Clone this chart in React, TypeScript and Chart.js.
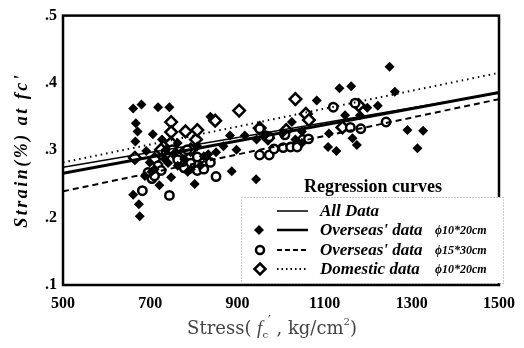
import { useEffect, useRef } from "react";
import { Chart, registerables } from "chart.js";

Chart.register(...registerables);

// ---- axis ticks ----
const xTickValues = [500, 700, 900, 1100, 1300, 1500];
const yTickValues = [0.1, 0.2, 0.3, 0.4, 0.5];

// ---- measured points: [stress kg/cm2, strain %] ----
const overseas10x20: [number, number][] = [
  [661, 0.362], [680, 0.368], [667, 0.34], [671, 0.328], [666, 0.313],
  [718, 0.364], [744, 0.364], [706, 0.324], [727, 0.316], [691, 0.299],
  [661, 0.234], [674, 0.22], [676, 0.202], [721, 0.248], [748, 0.26],
  [802, 0.25], [838, 0.35], [851, 0.297], [883, 0.322], [887, 0.269],
  [917, 0.322], [943, 0.257], [944, 0.316], [1025, 0.342], [1082, 0.374],
  [1048, 0.311], [1110, 0.325], [1108, 0.305], [1127, 0.299], [1134, 0.392],
  [1161, 0.395], [1147, 0.352], [1164, 0.318], [1174, 0.308], [1181, 0.352],
  [1198, 0.363], [1222, 0.366], [1249, 0.424], [1261, 0.387], [1290, 0.33],
  [1326, 0.329], [1313, 0.303], [699, 0.282], [710, 0.272], [733, 0.287],
  [763, 0.277], [778, 0.287], [793, 0.272], [815, 0.277], [823, 0.291],
  [808, 0.306], [763, 0.311], [736, 0.301], [833, 0.294], [868, 0.306],
  [898, 0.301], [965, 0.323], [1003, 0.325], [1033, 0.316], [1048, 0.328],
  [688, 0.262], [703, 0.268], [741, 0.281], [786, 0.268], [756, 0.296],
];

const overseas15x30: [number, number][] = [
  [744, 0.233], [682, 0.24], [695, 0.267], [704, 0.258], [718, 0.277],
  [808, 0.27], [793, 0.281], [851, 0.261], [951, 0.293], [973, 0.293],
  [984, 0.302], [1005, 0.304], [1022, 0.305], [1037, 0.305], [1050, 0.316],
  [1063, 0.317], [973, 0.32], [1009, 0.323], [951, 0.332], [1120, 0.364],
  [1159, 0.334], [1183, 0.332], [1170, 0.37], [1241, 0.342], [778, 0.274],
  [763, 0.286], [736, 0.295], [808, 0.29], [751, 0.301], [785, 0.301],
  [823, 0.282], [823, 0.272], [725, 0.27], [710, 0.262], [838, 0.282],
];

const domestic10x20: [number, number][] = [
  [665, 0.289], [748, 0.342], [748, 0.327], [725, 0.301], [748, 0.311],
  [781, 0.328], [805, 0.316], [773, 0.294], [849, 0.344], [904, 0.359],
  [1033, 0.376], [1057, 0.354], [763, 0.291], [793, 0.301], [808, 0.33],
  [710, 0.287], [951, 0.333], [970, 0.318], [1141, 0.334], [1178, 0.367],
  [1012, 0.33], [1064, 0.345],
];

// ---- regression curves: strain at stress = 500 and 1500 ----
const fitStress = [500, 1500];
const fitAllData = [0.275, 0.385];
const fitOverseas10x20 = [0.266, 0.386];
const fitOverseas15x30 = [0.239, 0.376];
const fitDomestic = [0.282, 0.415];

const toXY = (pts: [number, number][]) => pts.map(([x, y]) => ({ x, y }));
const fitXY = (ys: number[]) => fitStress.map((x, i) => ({ x, y: ys[i] }));

const SERIF = '"Liberation Serif", "DejaVu Serif", serif';
const WIDE_SERIF = '"DejaVu Serif", "Liberation Serif", serif';

function diamond(ctx: CanvasRenderingContext2D, x: number, y: number, r: number) {
  ctx.beginPath();
  ctx.moveTo(x, y - r);
  ctx.lineTo(x + r, y);
  ctx.lineTo(x, y + r);
  ctx.lineTo(x - r, y);
  ctx.closePath();
}

const decorPlugin = {
  id: "decor",
  afterDraw(chart: Chart) {
    const ctx = chart.ctx;
    const { left, right, top, bottom } = chart.chartArea;

    // plot frame
    ctx.save();
    ctx.strokeStyle = "#000";
    ctx.lineWidth = 2.5;
    ctx.strokeRect(left, top, right - left, bottom - top);
    ctx.restore();

    // y-axis title
    ctx.save();
    ctx.translate(22, (top + bottom) / 2);
    ctx.rotate(-Math.PI / 2);
    ctx.fillStyle = "#000";
    ctx.font = `bold italic 18px ${SERIF}`;
    (ctx as any).letterSpacing = "2.5px";
    ctx.textAlign = "center";
    ctx.textBaseline = "middle";
    ctx.fillText("Strain(%) at fc'", 0, 0);
    ctx.restore();

    // x-axis title, drawn piecewise for the subscript / superscripts
    ctx.save();
    ctx.fillStyle = "#444";
    ctx.textBaseline = "alphabetic";
    const parts: { t: string; f: string; dy: number }[] = [
      { t: "Stress( ", f: `18px ${WIDE_SERIF}`, dy: 0 },
      { t: "f", f: `italic 19px ${SERIF}`, dy: 0 },
      { t: "c", f: `10px ${WIDE_SERIF}`, dy: 4 },
      { t: "′", f: `12px ${WIDE_SERIF}`, dy: -9 },
      { t: " , kg/cm", f: `18px ${WIDE_SERIF}`, dy: 0 },
      { t: "2", f: `10px ${WIDE_SERIF}`, dy: -9 },
      { t: ")", f: `18px ${WIDE_SERIF}`, dy: 0 },
    ];
    let total = 0;
    for (const p of parts) {
      ctx.font = p.f;
      total += ctx.measureText(p.t).width;
    }
    let cx = 272 - total / 2;
    const baseY = 334;
    for (const p of parts) {
      ctx.font = p.f;
      ctx.fillText(p.t, cx, baseY + p.dy);
      cx += ctx.measureText(p.t).width;
    }
    ctx.restore();

    // legend block
    ctx.save();
    const bx = 241, by = 197, bw = 262, bh = 86;
    ctx.fillStyle = "#fff";
    ctx.fillRect(bx, by, bw, bh);
    ctx.strokeStyle = "#999";
    ctx.lineWidth = 1;
    ctx.setLineDash([1, 2]);
    ctx.strokeRect(bx + 0.5, by + 0.5, bw, bh);
    ctx.setLineDash([]);

    ctx.fillStyle = "#000";
    ctx.font = `bold 18px ${SERIF}`;
    ctx.textAlign = "center";
    ctx.textBaseline = "middle";
    ctx.fillText("Regression curves", 373, 187);

    const rows = [
      { y: 211, label: "All Data", size: "", marker: "", dash: [] as number[], lw: 1.5 },
      { y: 230, label: "Overseas' data", size: "ϕ10*20cm", marker: "fd", dash: [] as number[], lw: 2.5 },
      { y: 250, label: "Overseas' data", size: "ϕ15*30cm", marker: "oc", dash: [5, 3], lw: 2 },
      { y: 269, label: "Domestic data", size: "ϕ10*20cm", marker: "od", dash: [1.5, 3], lw: 2 },
    ];
    for (const r of rows) {
      ctx.strokeStyle = "#000";
      ctx.lineWidth = r.lw;
      ctx.setLineDash(r.dash);
      ctx.beginPath();
      ctx.moveTo(277, r.y);
      ctx.lineTo(308, r.y);
      ctx.stroke();
      ctx.setLineDash([]);

      if (r.marker === "fd") {
        diamond(ctx, 259, r.y, 5);
        ctx.fillStyle = "#000";
        ctx.fill();
      } else if (r.marker === "oc") {
        ctx.beginPath();
        ctx.arc(260, r.y, 4, 0, Math.PI * 2);
        ctx.lineWidth = 2.5;
        ctx.stroke();
      } else if (r.marker === "od") {
        diamond(ctx, 260, r.y, 5.5);
        ctx.lineWidth = 2.5;
        ctx.stroke();
      }

      ctx.fillStyle = "#000";
      ctx.textAlign = "left";
      ctx.font = `bold italic 17px ${SERIF}`;
      ctx.fillText(r.label, 320, r.y + 1);
      if (r.size) {
        ctx.font = `bold italic 12px ${SERIF}`;
        ctx.fillText(r.size, 435, r.y + 1);
      }
    }
    ctx.restore();
  },
};

export default function App() {
  const canvasRef = useRef<HTMLCanvasElement | null>(null);

  useEffect(() => {
    document.body.style.margin = "0";
    const canvas = canvasRef.current;
    if (!canvas) return;

    const fitLine = (ys: number[], width: number, dash: number[]) => ({
      type: "line" as const,
      data: fitXY(ys),
      borderColor: "#000",
      borderWidth: width,
      borderDash: dash,
      pointRadius: 0,
      fill: false,
      tension: 0,
      order: 0,
    });

    const chart = new Chart(canvas, {
      type: "scatter",
      data: {
        datasets: [
          {
            label: "Overseas' data ϕ15*30cm",
            data: toXY(overseas15x30),
            pointStyle: "circle",
            pointRadius: 4.2,
            borderWidth: 2.5,
            borderColor: "#000",
            backgroundColor: "#fff",
            order: 2,
          },
          {
            label: "Domestic data ϕ10*20cm",
            data: toXY(domestic10x20),
            pointStyle: "rectRot",
            pointRadius: 5.8,
            borderWidth: 2.5,
            borderColor: "#000",
            backgroundColor: "#fff",
            order: 3,
          },
          {
            label: "Overseas' data ϕ10*20cm",
            data: toXY(overseas10x20),
            pointStyle: "rectRot",
            pointRadius: 5,
            borderWidth: 0,
            borderColor: "#000",
            backgroundColor: "#000",
            order: 1,
          },
          { label: "All Data", ...fitLine(fitAllData, 1.5, []) },
          { label: "Overseas' data ϕ10*20cm fit", ...fitLine(fitOverseas10x20, 3, []) },
          { label: "Overseas' data ϕ15*30cm fit", ...fitLine(fitOverseas15x30, 2, [6, 4]) },
          { label: "Domestic data ϕ10*20cm fit", ...fitLine(fitDomestic, 2, [1.5, 4]) },
        ] as any,
      },
      options: {
        animation: false,
        responsive: true,
        maintainAspectRatio: false,
        layout: { padding: { top: 10, right: 17, left: 0, bottom: 0 } },
        plugins: {
          legend: { display: false },
          tooltip: { enabled: false },
        },
        scales: {
          x: {
            type: "linear",
            min: 500,
            max: 1500,
            afterFit: (s: any) => {
              s.height = 63;
            },
            afterBuildTicks: (s: any) => {
              s.ticks = xTickValues.map((v) => ({ value: v }));
            },
            grid: { display: false, drawTicks: false },
            border: { display: false },
            ticks: {
              padding: 9,
              color: "#000",
              maxRotation: 0,
              font: { family: SERIF, size: 16, weight: "bold" },
              callback: (v: any) => String(v),
            },
          },
          y: {
            type: "linear",
            min: 0.1,
            max: 0.5,
            afterFit: (s: any) => {
              s.width = 63;
            },
            afterBuildTicks: (s: any) => {
              s.ticks = yTickValues.map((v) => ({ value: v }));
            },
            grid: { display: false, drawTicks: false },
            border: { display: false },
            ticks: {
              padding: 6,
              color: "#000",
              font: { family: SERIF, size: 16, weight: "bold" },
              callback: (v: any) => Number(v).toFixed(1).replace(/^0/, ""),
            },
          },
        },
      },
      plugins: [decorPlugin],
    });

    return () => chart.destroy();
  }, []);

  return (
    <div style={{ position: "relative", width: 524, height: 348, background: "#fff" }}>
      <canvas ref={canvasRef} />
    </div>
  );
}
